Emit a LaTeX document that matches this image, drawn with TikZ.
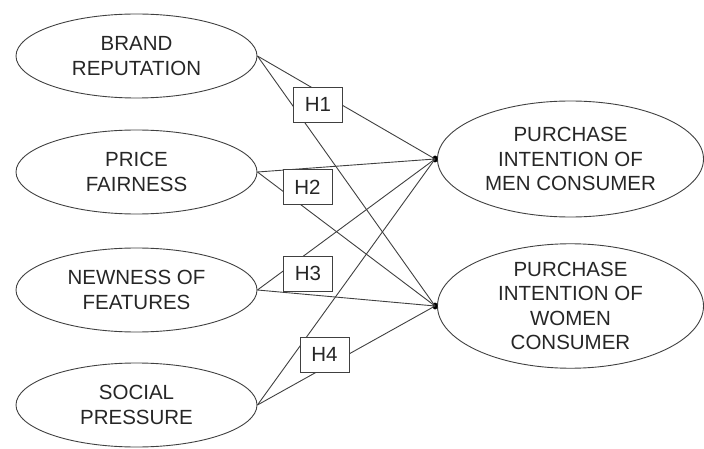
\documentclass[tikz,border=0pt]{standalone}
\usepackage{fontspec}
\setmainfont{Liberation Sans}
\usetikzlibrary{shapes.geometric}

\begin{document}
\begin{tikzpicture}[x=1pt,y=-1pt,
   construct/.style={ellipse,draw=black!75,line width=0.9pt,inner sep=0pt,align=center,
      font=\fontsize{20.5}{24.5}\selectfont,text=black!85},
   hypbox/.style={rectangle,draw=black!75,fill=white,line width=0.9pt,
      minimum width=49pt,minimum height=35pt,inner sep=0pt,font=\fontsize{20.5}{24.5}\selectfont,text=black!85},
   dot/.style={ellipse,fill=black,inner sep=0pt,minimum width=5pt,minimum height=7pt},
   link/.style={draw=black!75,line width=0.9pt}]
   \useasboundingbox (0,0) rectangle (704,449);
   % independent variables
   \node[construct,minimum width=241pt,minimum height=84pt] (brand) at (136.5,56) {BRAND\\REPUTATION};
   \node[construct,minimum width=241pt,minimum height=84pt] (price) at (136.5,172) {PRICE\\FAIRNESS};
   \node[construct,minimum width=241pt,minimum height=84pt] (newness) at (136.5,290) {NEWNESS OF\\FEATURES};
   \node[construct,minimum width=241pt,minimum height=84pt] (social) at (136.5,405) {SOCIAL\\PRESSURE};
   % dependent variables
   \node[construct,minimum width=266pt,minimum height=116pt] (men) at (570.5,159) {PURCHASE\\INTENTION OF\\MEN CONSUMER};
   \node[construct,minimum width=266pt,minimum height=118pt] (women) at (570.5,306) {PURCHASE\\INTENTION OF\\WOMEN\\CONSUMER};
   \node[dot] (dmen) at ([xshift=-2pt]men.west) {};
   \node[dot] (dwomen) at ([xshift=-2pt]women.west) {};

   \foreach \src in {brand,price,newness,social}{
      \draw[link] (\src.east) -- (dmen.center);
      \draw[link] (\src.east) -- (dwomen.center);
   }

   % hypotheses
   \node[hypbox] (h1) at (318,104.5) {H1};
   \node[hypbox] (h2) at (307.5,187) {H2};
   \node[hypbox] (h3) at (308,273.5) {H3};
   \node[hypbox] (h4) at (324.5,354.5) {H4};
\end{tikzpicture}
\end{document}
